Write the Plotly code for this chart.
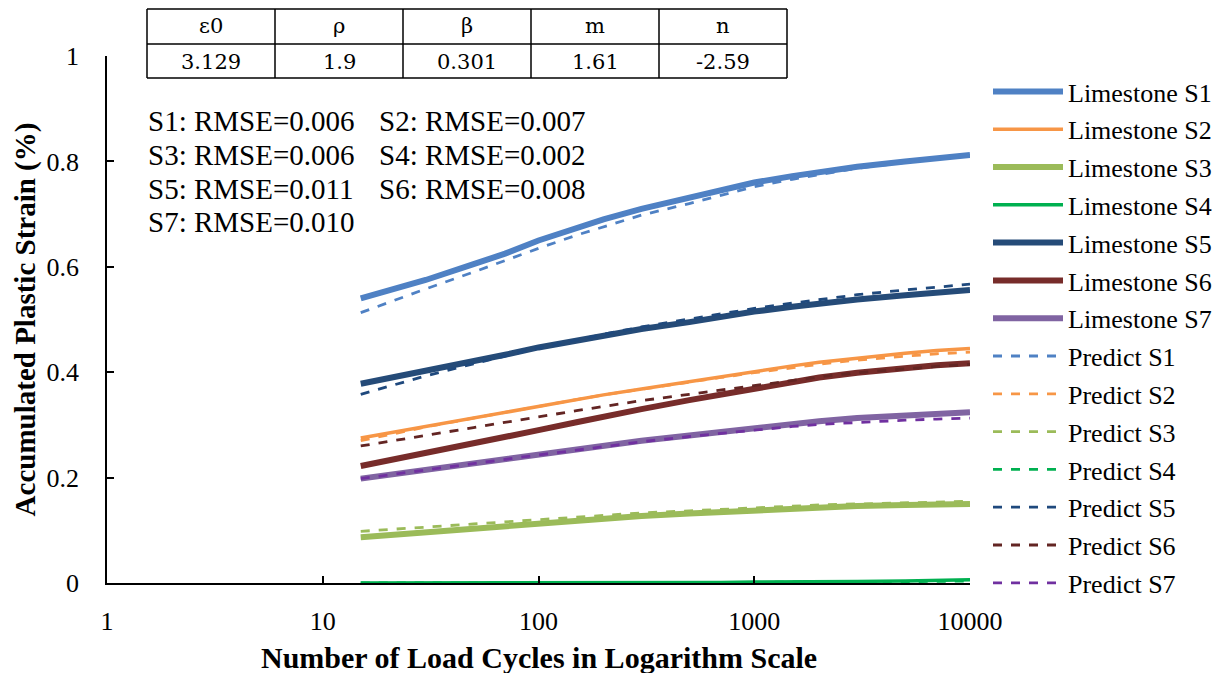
import plotly.graph_objects as go

cycles = [15, 20, 30, 50, 70, 100, 150, 200, 300, 500, 700, 1000, 1500, 2000, 3000, 5000, 7000, 10000]

lime_s1 = [0.54, 0.555, 0.575, 0.605, 0.625, 0.65, 0.675, 0.69, 0.71, 0.73, 0.745, 0.76, 0.772, 0.78, 0.79, 0.80, 0.806, 0.812]
lime_s2 = [0.275, 0.284, 0.297, 0.313, 0.323, 0.335, 0.348, 0.357, 0.368, 0.382, 0.391, 0.402, 0.412, 0.419, 0.427, 0.436, 0.441, 0.445]
lime_s3 = [0.087, 0.091, 0.097, 0.104, 0.109, 0.114, 0.119, 0.123, 0.127, 0.132, 0.135, 0.139, 0.142, 0.144, 0.146, 0.148, 0.149, 0.15]
lime_s4 = [0.0, 0.0, 0.0, 0.0, 0.0, 0.0, 0.0, 0.0, 0.001, 0.001, 0.001, 0.002, 0.002, 0.003, 0.003, 0.004, 0.005, 0.006]
lime_s5 = [0.378, 0.388, 0.402, 0.42, 0.433, 0.447, 0.46, 0.47, 0.482, 0.495, 0.505, 0.515, 0.524, 0.53, 0.538, 0.546, 0.551, 0.556]
lime_s6 = [0.222, 0.232, 0.246, 0.264, 0.276, 0.29, 0.305, 0.316, 0.33, 0.347, 0.358, 0.37, 0.382, 0.39, 0.399, 0.408, 0.413, 0.417]
lime_s7 = [0.198, 0.205, 0.214, 0.226, 0.234, 0.243, 0.253, 0.26, 0.27, 0.28, 0.287, 0.295, 0.302, 0.307, 0.313, 0.318, 0.321, 0.324]

pred_s1 = [0.513, 0.532, 0.558, 0.59, 0.612, 0.635, 0.66, 0.676, 0.698, 0.72, 0.735, 0.752, 0.766, 0.775, 0.787, 0.798, 0.805, 0.812]
pred_s2 = [0.27, 0.281, 0.296, 0.313, 0.324, 0.336, 0.348, 0.357, 0.368, 0.381, 0.39, 0.399, 0.409, 0.415, 0.423, 0.431, 0.435, 0.438]
pred_s3 = [0.098, 0.101, 0.106, 0.112, 0.116, 0.121, 0.126, 0.129, 0.133, 0.137, 0.14, 0.143, 0.146, 0.148, 0.15, 0.152, 0.154, 0.155]
pred_s4 = [0.0, 0.0, 0.0, 0.0, 0.0, 0.0, 0.0, 0.0, 0.0, 0.001, 0.001, 0.001, 0.002, 0.002, 0.002, 0.003, 0.003, 0.004]
pred_s5 = [0.358, 0.373, 0.393, 0.416, 0.431, 0.446, 0.461, 0.472, 0.486, 0.501, 0.511, 0.521, 0.531, 0.538, 0.547, 0.556, 0.561, 0.567]
pred_s6 = [0.26, 0.268, 0.28, 0.295, 0.305, 0.316, 0.327, 0.335, 0.346, 0.358, 0.366, 0.375, 0.385, 0.391, 0.399, 0.407, 0.411, 0.415]
pred_s7 = [0.198, 0.205, 0.214, 0.226, 0.234, 0.243, 0.252, 0.259, 0.268, 0.278, 0.284, 0.291, 0.297, 0.301, 0.305, 0.309, 0.311, 0.313]

lime_names = ["Limestone S1", "Limestone S2", "Limestone S3", "Limestone S4", "Limestone S5", "Limestone S6", "Limestone S7"]
pred_names = ["Predict S1", "Predict S2", "Predict S3", "Predict S4", "Predict S5", "Predict S6", "Predict S7"]

lime_colors = ["#4F81C4", "#F79646", "#9BBB59", "#00B050", "#254B78", "#772C2A", "#8064A2"]
pred_colors = ["#4F81C4", "#F79646", "#9BBB59", "#00B050", "#1F497D", "#632523", "#7030A0"]
lime_widths = [6, 3.5, 6, 3.5, 6, 6, 6]

table_headers = ["ε0", "ρ", "β", "m", "n"]
table_values = ["3.129", "1.9", "0.301", "1.61", "-2.59"]

rmse_labels = [["S1: RMSE=0.006", "S2: RMSE=0.007"],
               ["S3: RMSE=0.006", "S4: RMSE=0.002"],
               ["S5: RMSE=0.011", "S6: RMSE=0.008"],
               ["S7: RMSE=0.010"]]

tick_vals = [1, 10, 100, 1000, 10000]
tick_text = ["1", "10", "100", "1000", "10000"]

x_title = "Number of Load Cycles in Logarithm Scale"
y_title = "Accumulated Plastic Strain (%)"

FONT = "Liberation Serif"
TFONT = "DejaVu Serif"

fig = go.Figure()
lime_series = [lime_s1, lime_s2, lime_s3, lime_s4, lime_s5, lime_s6, lime_s7]
pred_series = [pred_s1, pred_s2, pred_s3, pred_s4, pred_s5, pred_s6, pred_s7]

for i in range(7):
    fig.add_trace(go.Scatter(x=cycles, y=lime_series[i], mode="lines", name=lime_names[i],
                             legendgroup=lime_names[i],
                             line=dict(color=lime_colors[i], width=lime_widths[i])))
for i in range(7):
    fig.add_trace(go.Scatter(x=cycles, y=pred_series[i], mode="lines", name=pred_names[i],
                             legendgroup=pred_names[i],
                             line=dict(color=pred_colors[i], width=2.8, dash="dash")))

# page has an 8px body margin; target positions are given in page pixels
OFF = 8
W, H = 1225 - OFF, 673 - OFF
L, R, T, B = 107 - OFF, 970 - OFF, 56 - OFF, 583 - OFF

def px(xp):
    return (xp - OFF - L) / (R - L)

def py(yp):
    return (B - (yp - OFF)) / (B - T)

shapes = []
anns = []
# parameter table
col_edges = [147, 275, 403, 531, 659, 787]
row_edges = [9, 44, 78]
for xe in col_edges:
    shapes.append(dict(type="line", xref="paper", yref="paper", x0=px(xe), x1=px(xe),
                       y0=py(row_edges[0]), y1=py(row_edges[-1]), line=dict(color="black", width=1.5)))
for ye in row_edges:
    shapes.append(dict(type="line", xref="paper", yref="paper", x0=px(col_edges[0]), x1=px(col_edges[-1]),
                       y0=py(ye), y1=py(ye), line=dict(color="black", width=1.5)))
for j in range(5):
    cx = (col_edges[j] + col_edges[j + 1]) / 2
    anns.append(dict(xref="paper", yref="paper", x=px(cx), y=py(26), text=table_headers[j],
                     showarrow=False, xanchor="center", yanchor="middle",
                     font=dict(family=TFONT, size=21, color="black")))
    anns.append(dict(xref="paper", yref="paper", x=px(cx), y=py(62), text=table_values[j],
                     showarrow=False, xanchor="center", yanchor="middle",
                     font=dict(family=TFONT, size=21, color="black")))

# RMSE text
row_y = [121, 155, 189, 222]
col_x = [146, 377]
for r, row in enumerate(rmse_labels):
    for c, t in enumerate(row):
        anns.append(dict(xref="paper", yref="paper", x=px(col_x[c]), y=py(row_y[r]), text=t,
                         showarrow=False, xanchor="left", yanchor="middle",
                         font=dict(family=FONT, size=29, color="black")))

# x-axis title
anns.append(dict(xref="paper", yref="paper", x=0.5, y=py(657), text="<b>" + x_title + "</b>",
                 showarrow=False, xanchor="center", yanchor="middle",
                 font=dict(family=FONT, size=30, color="black")))

fig.update_layout(
    width=W, height=H,
    margin=dict(l=L, r=W - R, t=T, b=H - B, autoexpand=False),
    paper_bgcolor="white", plot_bgcolor="white",
    font=dict(family=FONT, color="black"),
    shapes=shapes, annotations=anns,
    legend=dict(x=px(988), y=py(68), xanchor="left", yanchor="top",
                font=dict(family=FONT, size=26, color="black"),
                itemwidth=70, tracegroupgap=1, bgcolor="rgba(0,0,0,0)",
                traceorder="grouped"),
    xaxis=dict(type="log", range=[0, 4], tickvals=tick_vals, ticktext=tick_text,
               showgrid=False, zeroline=False, showline=True, linecolor="black", linewidth=1.5,
               ticks="inside", ticklen=7, tickcolor="black", tickwidth=1.5,
               ticklabelstandoff=14, automargin=False,
               tickfont=dict(family=FONT, size=26, color="black")),
    yaxis=dict(range=[0, 1], dtick=0.2, tickformat="~g",
               showgrid=False, zeroline=False, showline=True, linecolor="black", linewidth=1.5,
               ticks="inside", ticklen=7, tickcolor="black", tickwidth=1.5,
               ticklabelstandoff=21, automargin=False,
               tickfont=dict(family=FONT, size=26, color="black"),
               title=dict(text="<b>" + y_title + "</b>", standoff=2,
                          font=dict(family=FONT, size=29, color="black"))),
)

fig.write_html("out.html")
